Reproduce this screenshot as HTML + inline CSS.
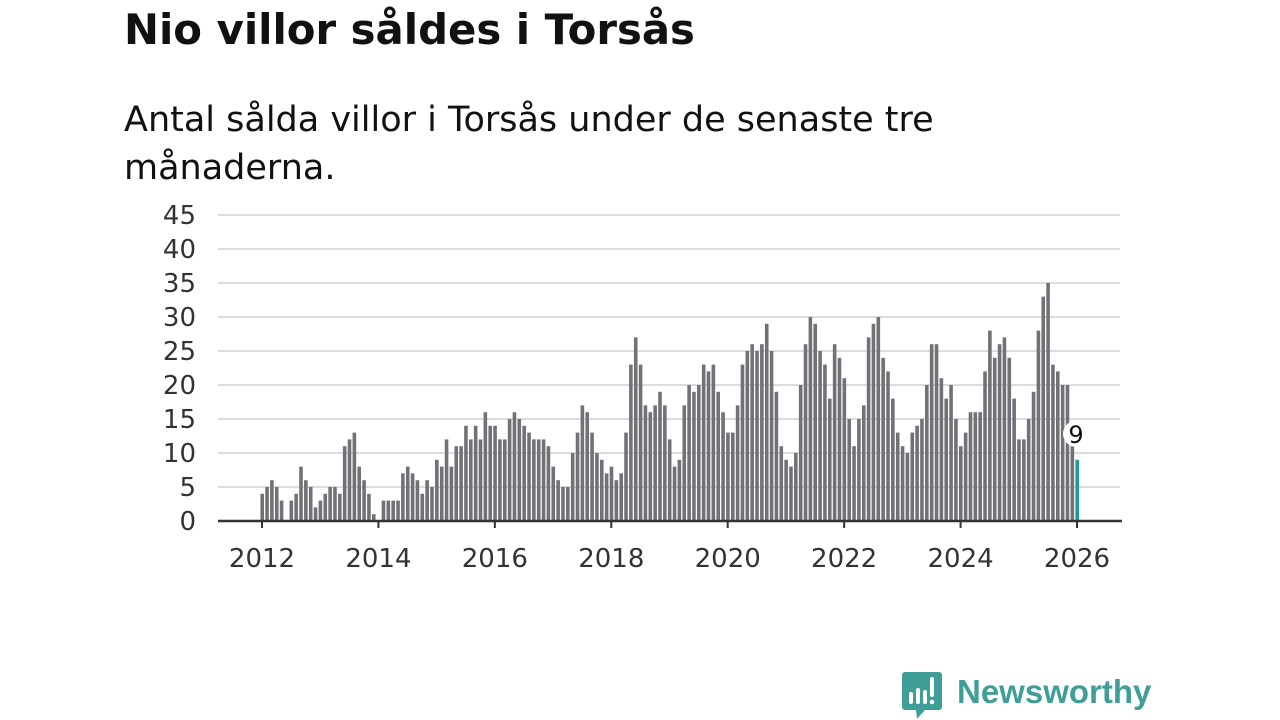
<!DOCTYPE html>
<html><head><meta charset="utf-8">
<style>
body{margin:0;width:1280px;height:720px;background:#fff;overflow:hidden;font-family:"DejaVu Sans","Liberation Sans",sans-serif;color:#111;}
#title{position:absolute;left:124px;top:5px;font-size:41.8px;font-weight:bold;margin:0;}
#sub{position:absolute;left:124px;top:96px;font-size:35px;line-height:48px;width:950px;margin:0;}
svg{position:absolute;left:0;top:0;}
</style></head><body>
<h1 id="title">Nio villor såldes i Torsås</h1>
<p id="sub">Antal sålda villor i Torsås under de senaste tre<br>månaderna.</p>
<svg id="chart" width="1280" height="720"></svg>
<script>
const years=[2012,2014,2016,2018,2020,2022,2024,2026];
const yTicks=[0,5,10,15,20,25,30,35,40,45];
const v2012=[4,5,6,5,3,0,3,4,8,6,5,2];
const v2013=[3,4,5,5,4,11,12,13,8,6,4,1];
const v2014=[0,3,3,3,3,7,8,7,6,4,6,5];
const v2015=[9,8,12,8,11,11,14,12,14,12,16,14];
const v2016=[14,12,12,15,16,15,14,13,12,12,12,11];
const v2017=[8,6,5,5,10,13,17,16,13,10,9,7];
const v2018=[8,6,7,13,23,27,23,17,16,17,19,17];
const v2019=[12,8,9,17,20,19,20,23,22,23,19,16];
const v2020=[13,13,17,23,25,26,25,26,29,25,19,11];
const v2021=[9,8,10,20,26,30,29,25,23,18,26,24];
const v2022=[21,15,11,15,17,27,29,30,24,22,18,13];
const v2023=[11,10,13,14,15,20,26,26,21,18,20,15];
const v2024=[11,13,16,16,16,22,28,24,26,27,24,18];
const v2025=[12,12,15,19,28,33,35,23,22,20,20,11];
const v2026=[9];
const values=[].concat(v2012,v2013,v2014,v2015,v2016,v2017,v2018,v2019,v2020,v2021,v2022,v2023,v2024,v2025,v2026);
const NS="http://www.w3.org/2000/svg";
const svg=document.getElementById('chart');
const x0=262,x1=1077,y0=521,ypx=6.8;
const xs=t=>x0+(t-2012)*(x1-x0)/14;
const ys=v=>y0-v*ypx;
function mk(tag,at){const e=document.createElementNS(NS,tag);for(const k in at)e.setAttribute(k,at[k]);svg.appendChild(e);return e;}
yTicks.forEach(t=>{
  if(t>0){const g=mk('line',{x1:218,x2:1120,y1:ys(t),y2:ys(t),stroke:'#dcdcdc','stroke-width':2});
  
  }
  const l=mk('text',{x:196,y:ys(t)+9,'text-anchor':'end','font-size':26,fill:'#333','font-family':'DejaVu Sans, Liberation Sans, sans-serif'});
  l.textContent=t;
  
  
});
values.forEach((v,i)=>{
  const t=2012+i/12;
  const last=i===values.length-1;
  const b=mk('rect',{x:xs(t)-1.6,y:ys(v),width:3.6,height:v*ypx,fill:last?'#1a9c93':'#737177'});
  
  
});
const ax=mk('line',{x1:218,x2:1122,y1:y0,y2:y0,stroke:'#333','stroke-width':2.5});


years.forEach(yr=>{
  const tk=mk('line',{x1:xs(yr),x2:xs(yr),y1:y0,y2:y0+7,stroke:'#333','stroke-width':2});
  
  
  const l=mk('text',{x:xs(yr),y:567,'text-anchor':'middle','font-size':26,fill:'#333','font-family':'DejaVu Sans, Liberation Sans, sans-serif'});
  l.textContent=yr;
  
  
});
const lv=values[values.length-1];
const lx=xs(2012+(values.length-1)/12);
const c=mk('circle',{cx:lx-1,cy:ys(lv)-26,r:13,fill:'#fff'});


const lt=mk('text',{x:lx-1,y:ys(lv)-17,'text-anchor':'middle','font-size':24,fill:'#111','font-family':'DejaVu Sans, Liberation Sans, sans-serif'});
lt.textContent=lv;


</script>
<svg width="1280" height="720" style="pointer-events:none">
  <path d="M905,672 h34 a3,3 0 0 1 3,3 v32 a3,3 0 0 1 -3,3 h-14 l-8,9 l-1,-9 h-11 a3,3 0 0 1 -3,-3 v-32 a3,3 0 0 1 3,-3z" fill="#3f9f98"/>
  <rect x="909" y="692" width="4" height="12" rx="2" fill="#fff"/>
  <rect x="916" y="688" width="4" height="16" rx="2" fill="#fff"/>
  <rect x="923" y="690" width="4" height="14" rx="2" fill="#fff"/>
  <rect x="930" y="677" width="4" height="20" rx="2" fill="#fff"/>
  <circle cx="932" cy="702" r="2.3" fill="#fff"/>
  <text x="957" y="703" font-size="33" font-weight="bold" fill="#3f9f98" font-family="Liberation Sans, sans-serif">Newsworthy</text>
</svg>
</body></html>
